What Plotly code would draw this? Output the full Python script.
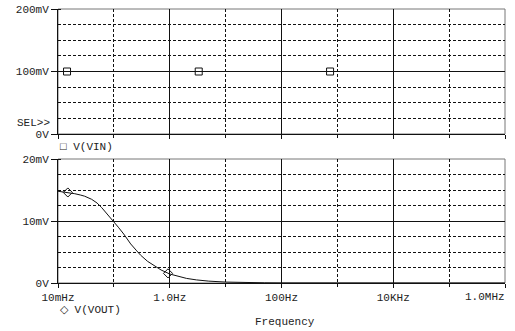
import math
import plotly.graph_objects as go

# ---- data ----
vin_freq = [0.01, 0.1, 1, 10, 100, 1e3, 1e4, 1e5, 1e6]
vin_mv = [100, 100, 100, 100, 100, 100, 100, 100, 100]
vin_mark_freq = [0.0145, 3.3, 740]
vin_mark_mv = [100, 100, 100]

vout_freq = [0.01, 0.015, 0.02, 0.025, 0.03, 0.04, 0.05, 0.06, 0.07, 0.08, 0.1,
             0.12, 0.15, 0.2, 0.25, 0.3, 0.4, 0.5, 0.7, 1.0, 1.5, 2, 3, 5,
             10, 20, 50, 100, 1e3, 1e4, 1e5, 1e6]
vout_mv = [14.8, 14.6, 14.4, 14.2, 14.0, 13.5, 12.9, 12.2, 11.5, 10.9, 10.0,
           9.0, 7.9, 6.3, 5.3, 4.5, 3.5, 2.9, 2.1, 1.45, 0.98, 0.74, 0.5, 0.3,
           0.15, 0.07, 0.03, 0.015, 0.0, 0.0, 0.0, 0.0]
vout_mark_freq = [0.015, 0.93]
vout_mark_mv = [14.6, 1.55]

x_tickvals = [0.01, 1, 100, 1e4, 1e6]
x_ticktext = ["10mHz", "1.0Hz", "100Hz", "10KHz", ""]
x_last_label = "1.0MHz"
x_minor = [0.1, 10, 1e3, 1e5]

top_tickvals = [0, 100, 200]
top_ticktext = ["0V", "100mV", "200mV"]
bot_tickvals = [0, 10, 20]
bot_ticktext = ["0V", "10mV", "20mV"]

FONT = "Liberation Mono"
W, H = 515, 331
ML, MR, MT, MB = 58, 10, 9, 48
ph = H - MT - MB  # 274


def py(p):
    return (H - MB - p) / ph


def px(p):
    return (p - ML) / (W - ML - MR)


fig = go.Figure()
line = dict(color="#111", width=1)
fig.add_trace(go.Scatter(x=vin_freq, y=vin_mv, mode="lines", line=line,
                         xaxis="x", yaxis="y", showlegend=False))
fig.add_trace(go.Scatter(x=vin_mark_freq, y=vin_mark_mv, mode="markers",
                         marker=dict(symbol="square-open", size=7, color="#111",
                                     line=dict(width=1)),
                         xaxis="x", yaxis="y", showlegend=False))
fig.add_trace(go.Scatter(x=vout_freq, y=vout_mv, mode="lines", line=line,
                         xaxis="x2", yaxis="y2", showlegend=False))
fig.add_trace(go.Scatter(x=vout_mark_freq, y=vout_mark_mv, mode="markers",
                         marker=dict(symbol="diamond-open", size=7, color="#111",
                                     line=dict(width=1)),
                         xaxis="x2", yaxis="y2", showlegend=False))

grid_common = dict(gridcolor="#111", gridwidth=1)
dot = "3px,2px"

xcommon = dict(
    type="log", range=[-2, 6], tickmode="array", tickvals=x_tickvals,
    showgrid=True, **grid_common, griddash="solid",
    showline=True, linecolor="#111", linewidth=1, mirror=False,
    ticks="outside", ticklen=4, tickcolor="#111",
    minor=dict(tickmode="array", tickvals=x_minor, showgrid=True,
               gridcolor="#111", griddash=dot, gridwidth=1,
               ticks="outside", ticklen=3, tickcolor="#111"),
    zeroline=False, automargin=False,
    tickfont=dict(family=FONT, size=11, color="#222"),
)

fig.update_layout(
    width=W, height=H,
    margin=dict(l=ML, r=MR, t=MT, b=MB, autoexpand=False),
    paper_bgcolor="white", plot_bgcolor="white",
    xaxis=dict(**xcommon, anchor="y", domain=[0, 1], showticklabels=False),
    xaxis2=dict(**xcommon, anchor="y2", domain=[0, 1], ticktext=x_ticktext,
                showticklabels=True),
    yaxis=dict(domain=[py(134), 1], range=[0, 200], tickmode="array",
               tickvals=top_tickvals, ticktext=top_ticktext,
               showgrid=True, **grid_common, griddash="solid",
               showline=True, linecolor="#111", linewidth=1,
               ticks="outside", ticklen=6, tickcolor="#111",
               minor=dict(dtick=25, showgrid=True, gridcolor="#111",
                          griddash=dot, ticks="inside", ticklen=3,
                          tickcolor="#111"),
               zeroline=False, anchor="x", automargin=False,
               tickfont=dict(family=FONT, size=11, color="#222")),
    yaxis2=dict(domain=[0, py(159)], range=[0, 20], tickmode="array",
                tickvals=bot_tickvals, ticktext=bot_ticktext,
                showgrid=True, **grid_common, griddash="solid",
                showline=True, linecolor="#111", linewidth=1,
                ticks="outside", ticklen=6, tickcolor="#111",
                minor=dict(dtick=2.5, showgrid=True, gridcolor="#111",
                           griddash=dot, ticks="inside", ticklen=3,
                           tickcolor="#111"),
                zeroline=False, anchor="x2", automargin=False,
                tickfont=dict(family=FONT, size=11, color="#222")),
)

# frame borders (top/right) in grey
for yr in ["y", "y2"]:
    xr = "x" if yr == "y" else "x2"
    fig.add_shape(type="rect", xref=xr + " domain", yref=yr + " domain",
                  x0=0, x1=1, y0=0, y1=1, line=dict(color="#777", width=1),
                  layer="below")

ann_font = dict(family=FONT, size=11, color="#222")
# last x tick label, pulled left so it stays inside the window
# (annotation x on a log axis is given in log10 units)
fig.add_annotation(text=x_last_label, xref="x2", yref="y2 domain",
                   x=math.log10(x_tickvals[-1]), y=0, xanchor="right",
                   yanchor="middle", xshift=2, yshift=-14, showarrow=False,
                   font=ann_font)
fig.add_annotation(text="SEL>>", xref="paper", yref="paper", x=px(52), y=py(123),
                   xanchor="right", yanchor="middle", showarrow=False, font=ann_font)
fig.add_annotation(text="\u25a1 V(VIN)", xref="paper", yref="paper", x=px(58), y=py(147),
                   xanchor="left", yanchor="middle", showarrow=False, font=ann_font)
fig.add_annotation(text="\u25c7 V(VOUT)", xref="paper", yref="paper", x=px(58), y=py(310),
                   xanchor="left", yanchor="middle", showarrow=False, font=ann_font)
fig.add_annotation(text="Frequency", xref="paper", yref="paper", x=px(285), y=py(322),
                   xanchor="center", yanchor="middle", showarrow=False, font=ann_font)

fig.write_html("out.html")
